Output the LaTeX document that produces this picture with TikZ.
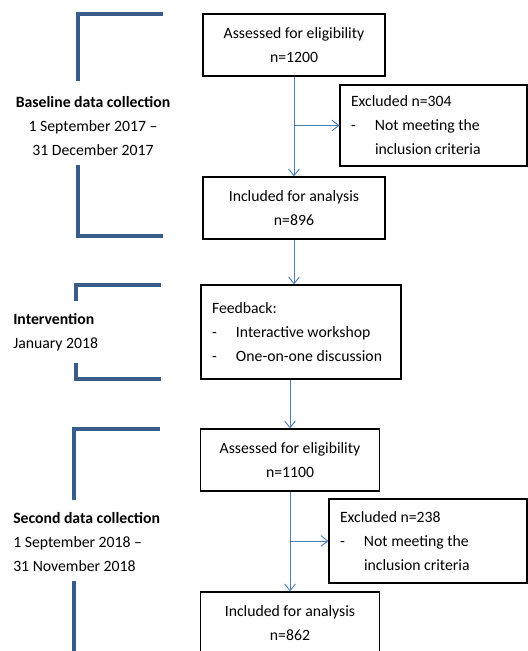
\documentclass[tikz,border=0pt]{standalone}
\usepackage{fontspec}
\setmainfont{Carlito}
\usetikzlibrary{arrows.meta}
\definecolor{brkblue}{HTML}{385D8A}
\definecolor{arwblue}{HTML}{4A7EBB}
\newcommand{\dashitem}{\makebox[18pt][l]{-}}
\tikzset{
  box/.style={draw, line width=0.9pt, inner sep=0pt, align=flush center, font=\fontsize{11.8}{18}\selectfont},
  lbox/.style={box, align=flush left, inner xsep=8.25pt},
  lab/.style={inner sep=0pt, font=\fontsize{11.8}{18}\selectfont},
  brk/.style={draw=brkblue, line width=2.4pt},
  arw/.style={draw=arwblue, line width=0.7pt, -{Straight Barb[length=5pt,width=8pt]}}
}
\begin{document}
\begin{tikzpicture}[x=0.75pt,y=-0.75pt]
\useasboundingbox (0,0) rectangle (528,651);
\clip (0,0) rectangle (528,651);
\node[box, minimum width=136.5pt, minimum height=46.5pt] (asm1) at (294,45) {Assessed for eligibility\\n=1200};
\node[lbox, text width=123.75pt, minimum height=60.75pt] (exc1) at (433.5,125.5) {Excluded n=304\\\dashitem Not meeting the\\\hphantom{\dashitem}inclusion criteria};
\node[box, minimum width=136.5pt, minimum height=46.5pt] (inc1) at (294,208) {Included for analysis\\n=896};
\node[lbox, text width=133.5pt, minimum height=70.5pt] (fbk) at (301,332) {Feedback:\\\dashitem Interactive workshop\\\dashitem One-on-one discussion};
\node[box, minimum width=134.25pt, minimum height=46.5pt] (asm2) at (290,460) {Assessed for eligibility\\n=1100};
\node[lbox, text width=132pt, minimum height=63pt] (exc2) at (428,541) {Excluded n=238\\\dashitem Not meeting the\\\hphantom{\dashitem}inclusion criteria};
\node[box, minimum width=134.25pt, minimum height=46.5pt] (inc2) at (290,623) {Included for analysis\\n=862};
\coordinate (br1) at (asm1.south |- exc1.west);
\coordinate (br2) at (asm2.south |- exc2.west);
\coordinate (fin) at (inc1.south |- fbk.north);
\coordinate (fout) at (asm2.north |- fbk.south);
\draw[arw] (asm1) -- (inc1);
\draw[arw] (br1) -- (exc1.west);
\draw[arw] (inc1) -- (fin);
\draw[arw] (fout) -- (asm2);
\draw[arw] (asm2) -- (inc2);
\draw[arw] (br2) -- (exc2.west);
\node[lab, align=flush center] (lab1) at (93,126) {\textbf{Baseline data collection}\\1 September 2017 --\\31 December 2017};
\node[lab, align=flush left, anchor=west] (lab2) at (13,332.5) {\textbf{Intervention}\\January 2018};
\node[lab, align=flush left, anchor=west] (lab3) at (13,542) {\textbf{Second data collection}\\1 September 2018 --\\31 November 2018};
\draw[brk] (163,14) -- (78,14) -- (78,81);
\draw[brk] (78,165) -- (78,236) -- (163,236);
\draw[brk] (161,285) -- (76,285) -- (76,301);
\draw[brk] (76,363) -- (76,379) -- (161,379);
\draw[brk] (160,429) -- (74,429) -- (74,500);
\draw[brk] (74,581) -- (74,660);
\end{tikzpicture}
\end{document}
